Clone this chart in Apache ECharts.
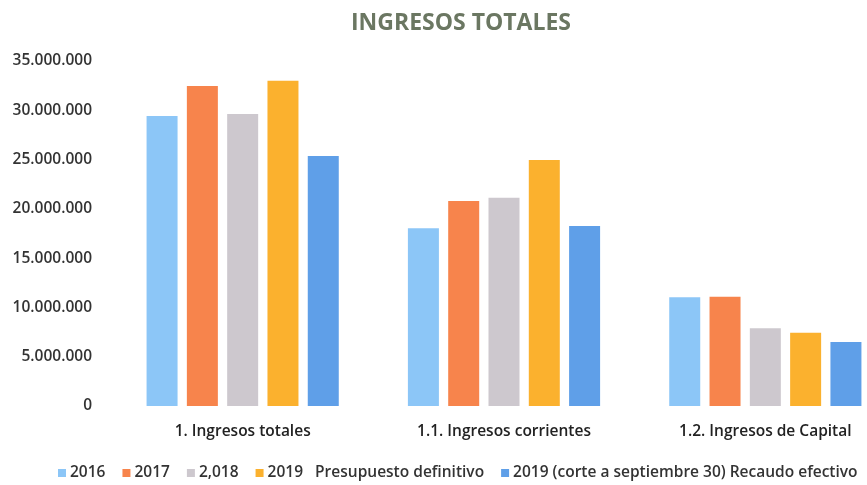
<!DOCTYPE html>
<html>
<head>
<meta charset="utf-8">
<script src="https://cdn.jsdelivr.net/npm/echarts@6/dist/echarts.min.js"></script>
<style>
  html, body { margin: 0; padding: 0; background: #fff; }
  #chart { width: 867px; height: 485px; }
</style>
</head>
<body>
<div id="chart"></div>
<script>
const categories = ['1. Ingresos totales', '1.1. Ingresos corrientes', '1.2. Ingresos de Capital']
const seriesNames = [
  '2016',
  '2017',
  '2,018',
  '2019   Presupuesto definitivo',
  '2019 (corte a septiembre 30) Recaudo efectivo'
]
const values2016 = [29420000, 18030000, 11030000]
const values2017 = [32460000, 20800000, 11090000]
const values2018 = [29620000, 21130000, 7880000]
const values2019Budget = [33000000, 24960000, 7440000]
const values2019Actual = [25360000, 18260000, 6490000]
const colors = ['#8cc6f7', '#f7844c', '#cdc8ce', '#fbb12e', '#5f9fe8']

const chart = echarts.init(document.getElementById('chart'))

const fmt = (v) => String(v).replace(/\B(?=(\d{3})+(?!\d))/g, '.')

const allValues = [values2016, values2017, values2018, values2019Budget, values2019Actual]

chart.setOption({
  animation: false,
  textStyle: { fontFamily: 'Open Sans' },
  title: {
    text: 'INGRESOS TOTALES',
    left: 456,
    textAlign: 'center',
    top: 7,
    textStyle: { fontSize: 23, fontWeight: 'bold', color: '#6b7762', fontFamily: 'Open Sans' }
  },
  legend: {
    left: 53,
    top: 460,
    itemWidth: 8,
    itemHeight: 8,
    itemGap: 17,
    icon: 'rect',
    textStyle: { fontSize: 15.5, fontWeight: 600, color: '#333', padding: [0, 0, 0, -1] },
    data: seriesNames
  },
  grid: { left: 112, top: 61, width: 784, height: 345, outerBoundsMode: 'none' },
  xAxis: {
    type: 'category',
    data: categories,
    axisLine: { show: false },
    axisTick: { show: false },
    axisLabel: { fontSize: 15.5, fontWeight: 600, color: '#222', margin: 18 }
  },
  yAxis: {
    type: 'value',
    min: 0,
    max: 35000000,
    interval: 5000000,
    splitLine: { show: false },
    axisLine: { show: false },
    axisTick: { show: false },
    axisLabel: { fontSize: 15.5, fontWeight: 600, color: '#333', margin: 20, formatter: fmt }
  },
  series: seriesNames.map((name, i) => ({
    name: name,
    type: 'bar',
    data: allValues[i],
    barWidth: 31,
    barGap: '30%',
    itemStyle: { color: colors[i] }
  }))
})
</script>
</body>
</html>
